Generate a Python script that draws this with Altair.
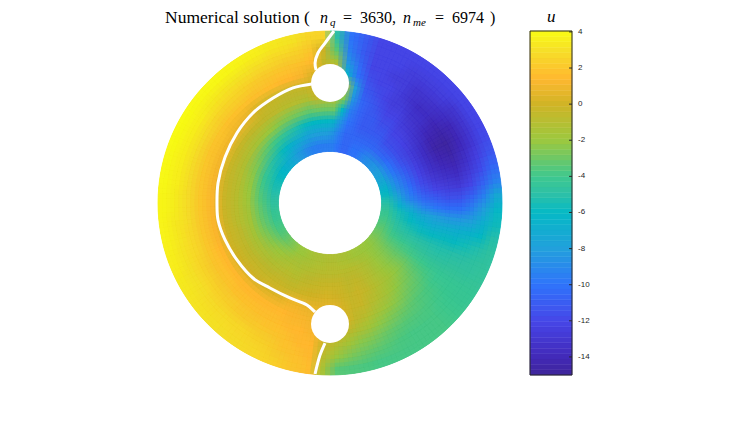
import altair as alt
import pandas as pd

ring_edges = [0.30, 0.37, 0.44, 0.51, 0.58, 0.65, 0.72, 0.79, 0.86, 0.93, 1.0]
sector_step = 5

# one row per 5 degree sector (clockwise from 12 o'clock), inner ring to outer ring
sector_values = [
    [-9.5,-8.5,-6.5,-3,-1,0.5,0.5,-1.5,-3.5,-5],
    [-10,-9.5,-8.5,-6,-2.5,-1,-6.5,-8.5,-9.5,-10],
    [-10.5,-10.5,-10,-9.5,-8.5,-8,-10,-10.5,-11,-11],
    [-10.5,-10.5,-10.5,-10.5,-10.5,-11,-11.5,-12,-12,-12],
    [-10,-10.5,-11,-11,-11,-11.5,-12,-12,-12,-12],
    [-10,-10.5,-11,-11,-11.5,-12,-12,-12.5,-12,-12],
    [-9.5,-10.5,-11,-11.5,-12,-12.5,-12.5,-12.5,-12.5,-12],
    [-9,-10.5,-11,-11.5,-12,-12.5,-13,-13,-12.5,-12],
    [-8.8,-10.5,-11.5,-12,-12.5,-13,-13.5,-13,-12.5,-12],
    [-8.5,-10.5,-11.5,-12,-12.7,-13.2,-13.5,-13.2,-12.5,-12],
    [-8.3,-10.3,-11.5,-12.2,-13,-13.7,-14,-13.5,-13,-12],
    [-8,-10,-11.5,-12.4,-13.3,-14.2,-14.4,-14,-13,-12],
    [-7.8,-9.8,-11.3,-12.5,-13.5,-14.5,-14.7,-14,-13,-12],
    [-7.3,-9.5,-11,-12.3,-13.4,-14.2,-14.5,-13.8,-12.8,-11.8],
    [-6.8,-9.2,-10.7,-12.1,-13.2,-13.8,-14.1,-13.3,-12.3,-11.3],
    [-6.3,-8.8,-10.3,-11.8,-12.7,-13.2,-13.5,-12.7,-11.7,-10.5],
    [-5.8,-8.2,-9.9,-11.2,-12,-12.5,-12.7,-12,-10.8,-9.3],
    [-5.2,-7.4,-9.3,-10.5,-11,-11.5,-11.5,-10.7,-9.3,-7.3],
    [-4.8,-6.5,-8,-9.2,-9.8,-10.2,-10.2,-9.3,-8,-6.2],
    [-4.4,-5.5,-6.5,-7.5,-8,-8.3,-8.3,-8,-6.8,-5.7],
    [-4.1,-5.2,-5.9,-6.5,-7,-6.9,-6.8,-6.5,-6,-5.1],
    [-3.8,-4.8,-5.3,-5.7,-5.9,-5.8,-5.9,-5.6,-5.2,-4.8],
    [-3.5,-4.4,-4.8,-5,-5.1,-5.2,-5.1,-5,-4.8,-4.6],
    [-3.2,-3.9,-4.2,-4.4,-4.6,-4.7,-4.7,-4.6,-4.6,-4.5],
    [-2.9,-3.4,-3.6,-3.8,-4,-4.2,-4.3,-4.3,-4.3,-4.3],
    [-2.6,-2.9,-3.1,-3.1,-3.4,-3.7,-4,-4.1,-4.2,-4.2],
    [-2.3,-2.5,-2.6,-2.5,-2.9,-3.3,-3.7,-3.9,-4,-4],
    [-2.1,-2.2,-2.2,-2.1,-2.5,-3,-3.5,-3.7,-3.8,-3.8],
    [-2,-1.9,-1.8,-1.7,-2.1,-2.6,-3.2,-3.6,-3.8,-3.8],
    [-1.9,-1.5,-1.4,-1.3,-1.6,-2.2,-2.9,-3.5,-3.8,-3.8],
    [-1.8,-1.2,-1,-0.9,-1.2,-1.8,-2.6,-3.3,-3.7,-3.8],
    [-1.7,-1,-0.7,-0.5,-0.8,-1.4,-2.2,-3,-3.5,-3.8],
    [-1.5,-0.9,-0.5,-0.2,-0.3,-0.8,-1.7,-2.6,-3.3,-3.8],
    [-1.4,-0.9,-0.6,-0.4,-0.3,-0.5,-1.2,-2.3,-3,-3.7],
    [-1.3,-0.8,-0.4,-0.1,0.2,0.3,-0.6,-1.6,-2.6,-3.6],
    [-1.2,-0.8,-0.3,0.1,0.6,0.8,0,-1,-2,-3.4],
    [-1.2,-0.8,-0.3,0.2,0.7,1,0.7,-0.3,-0.8,-1.5],
    [-1.3,-0.9,-0.4,0.1,0.7,1,1.2,1.4,1.5,1.6],
    [-1.4,-1,-0.5,0,0.8,1.2,1.4,1.5,1.7,1.9],
    [-1.5,-1.1,-0.6,-0.1,0.9,1.3,1.5,1.7,1.9,2.2],
    [-1.7,-1.2,-0.8,-0.3,0.9,1.4,1.6,1.9,2.2,2.5],
    [-1.9,-1.4,-0.9,-0.4,0.5,1.5,1.7,2,2.4,2.7],
    [-2,-1.4,-0.8,-0.3,0.3,1.5,1.7,2.1,2.6,2.8],
    [-2.3,-1.6,-1,-0.4,0.2,1.5,1.8,2.1,2.7,2.9],
    [-2.6,-1.8,-1.1,-0.5,0.1,1.5,1.8,2.2,2.8,3],
    [-2.9,-2,-1.2,-0.5,0.1,1.5,1.8,2.3,2.8,3.1],
    [-3.2,-2.2,-1.3,-0.5,0.1,1.5,1.9,2.4,2.9,3.2],
    [-3.5,-2.4,-1.4,-0.6,0,1.5,1.9,2.5,3,3.3],
    [-3.7,-2.6,-1.5,-0.6,0,1.5,1.9,2.5,3,3.4],
    [-3.9,-2.8,-1.6,-0.7,-0.1,1.4,2,2.6,3.1,3.5],
    [-4.1,-3,-1.6,-0.7,-0.1,1.3,2,2.7,3.2,3.6],
    [-4.2,-3.1,-1.7,-0.8,-0.1,1.3,2,2.7,3.3,3.7],
    [-4.4,-3.2,-1.7,-0.8,-0.2,1.3,2,2.8,3.3,3.7],
    [-4.6,-3.3,-1.8,-0.8,-0.2,1.3,2,2.8,3.4,3.8],
    [-4.8,-3.5,-1.9,-0.9,-0.2,1.3,2,2.8,3.4,3.8],
    [-5,-3.6,-2,-0.9,-0.2,1.2,2,2.8,3.5,3.9],
    [-5.2,-3.8,-2.1,-0.9,-0.3,1.2,2,2.8,3.5,3.9],
    [-5.4,-4,-2.2,-1,-0.3,1.1,2,2.8,3.5,3.9],
    [-5.6,-4.3,-2.4,-1.1,-0.3,1.1,1.9,2.8,3.5,4],
    [-5.8,-4.5,-2.6,-1.2,-0.3,1,1.9,2.8,3.5,4],
    [-6.1,-4.8,-2.9,-1.3,-0.4,1,1.9,2.7,3.5,4],
    [-6.4,-5.1,-3.2,-1.5,-0.5,0.9,1.8,2.6,3.4,3.9],
    [-6.8,-5.4,-3.5,-1.7,-0.5,0.8,1.8,2.5,3.3,3.9],
    [-7.2,-5.8,-3.9,-1.9,-0.5,0.5,1.8,2.5,3.2,3.9],
    [-7.7,-6.3,-4.2,-2.1,-0.6,0,1.7,2.4,3.1,3.8],
    [-8.2,-6.7,-4.6,-2.4,-0.7,-0.3,1.7,2.2,3,3.7],
    [-8.6,-7,-5,-2.6,-0.8,-0.4,1.6,2.1,2.9,3.6],
    [-9,-7.4,-5.4,-2.8,-0.9,-0.5,1.5,2,2.7,3.4],
    [-9.3,-7.8,-5.8,-3,-1,-0.5,1.4,1.9,2.6,3.3],
    [-9.5,-8,-6,-3.2,-1.2,-0.3,1.2,1.8,2.4,3.1],
    [-9.5,-8,-6,-3,-0.5,0,0.3,1.5,2,2.6],
    [-9.5,-8,-6,-3,-0.8,0.3,0,-0.5,0,2.5],
]

color_stops = [-15, -14, -12, -10, -8, -6, -5, -4, -2, 0, 1.4, 3, 4]
color_hex = ["#3e2699", "#4229b8", "#4646e8", "#2f74fb", "#22a0dc", "#05b9c5", "#2cc0a8",
             "#3fc88e", "#9cc83f", "#d0b426", "#ffb830", "#f6e028", "#f9fb15"]
colorbar_ticks = [4, 2, 0, -2, -4, -6, -8, -10, -12, -14]
colorbar_labels = ["4", "2", "0", "-2", "-4", "-6", "-8", "-10", "-12", "-14"]
colorbar_min = -15
colorbar_max = 4.05
colorbar_bands = 64

# same cells drawn again, slightly shifted and translucent, so the cell edges fade out
shift_theta = [0, 1.67, -1.67]
shift_ring = [0, 0.0233, -0.0233]

hole_x = [0.0, 0.0]
hole_y = [0.698, -0.703]

curve_main_x = [-0.105,-0.215,-0.331,-0.448,-0.541,-0.610,-0.651,-0.657,-0.651,-0.610,-0.541,-0.448,-0.349,-0.233,-0.134,-0.087]
curve_main_y = [0.692,0.669,0.610,0.523,0.407,0.267,0.116,-0.012,-0.099,-0.215,-0.331,-0.436,-0.494,-0.552,-0.593,-0.634]
curve_top_x = [0.023,-0.029,-0.070,-0.087,-0.081]
curve_top_y = [1.0,0.930,0.872,0.814,0.773]
curve_bottom_x = [-0.029,-0.058,-0.087]
curve_bottom_y = [-0.814,-0.884,-0.994]

title_head = ["Numerical solution ("]
title_head_x = [-0.959]
title_roman = ["=", "3630,", "=", "6974", ")"]
title_roman_x = [0.075, 0.174, 0.610, 0.709, 0.930]
title_italic = ["n", "n"]
title_italic_x = [-0.058, 0.424]
title_sub = ["q", "me"]
title_sub_x = [0.000, 0.483]
title_y = [1.047]
title_sub_y = [1.030]

xs = alt.Scale(domain=[-1.8721, 2.3953], nice=False, zero=False)
ys = alt.Scale(domain=[-1.2267, 1.1337], nice=False, zero=False)
bar_ys = alt.Scale(domain=[colorbar_min, colorbar_max], range=[367, 23], nice=False, zero=False)
X = alt.X("x:Q", scale=xs, axis=None)
Y = alt.Y("y:Q", scale=ys, axis=None)
color_scale = alt.Scale(domain=color_stops, range=color_hex, interpolate="rgb")


def field_layer(dt, dr, opacity, outlined):
    rows = []
    for s, vals in enumerate(sector_values):
        for k, v in enumerate(vals):
            rows.append(dict(a0=s * sector_step + dt, a1=(s + 1) * sector_step + dt,
                             r0=max(ring_edges[0], ring_edges[k] + dr),
                             r1=min(ring_edges[-1], ring_edges[k + 1] + dr), u=v, cx=0, cy=0))
    enc = dict(
        x=alt.X("cx:Q", scale=xs, axis=None),
        y=alt.Y("cy:Q", scale=ys, axis=None),
        theta=alt.Theta("a0:Q", stack=None, scale=alt.Scale(domain=[0, 360], range=[0, 6.283185])),
        theta2="a1:Q",
        radius=alt.Radius("r0:Q", stack=None, scale=alt.Scale(type="linear", domain=[0, 1], range=[0, 172])),
        radius2="r1:Q",
        color=alt.Color("u:Q", scale=color_scale, legend=None),
    )
    if outlined:
        enc["stroke"] = alt.Stroke("u:Q", scale=color_scale, legend=None)
        return alt.Chart(pd.DataFrame(rows)).mark_arc(strokeWidth=0.8).encode(**enc)
    return alt.Chart(pd.DataFrame(rows)).mark_arc(opacity=opacity).encode(**enc)


field_layers = []
n = 0
for dr in shift_ring:
    for dt in shift_theta:
        n += 1
        field_layers.append(field_layer(dt, dr, 1 / n, n == 1))

curves = pd.concat([
    pd.DataFrame(dict(x=curve_main_x, y=curve_main_y, c="main", o=range(len(curve_main_x)))),
    pd.DataFrame(dict(x=curve_top_x, y=curve_top_y, c="top", o=range(len(curve_top_x)))),
    pd.DataFrame(dict(x=curve_bottom_x, y=curve_bottom_y, c="bottom", o=range(len(curve_bottom_x)))),
])

holes = alt.Chart(pd.DataFrame(dict(x=hole_x, y=hole_y))).mark_point(
    filled=True, color="white", opacity=1, size=1444).encode(x=X, y=Y)

line = alt.Chart(curves).mark_line(color="white", strokeWidth=3, interpolate="catmull-rom").encode(
    x=alt.X("x:Q", scale=xs, axis=None, sort=None),
    y=alt.Y("y:Q", scale=ys, axis=None), detail="c:N", order="o:Q")


def text_layer(labels, xv, yv, size, style):
    df = pd.DataFrame(dict(x=xv, y=yv * len(labels), t=labels))
    return alt.Chart(df).mark_text(font="Liberation Serif", fontSize=size, fontStyle=style,
                                   align="left", baseline="alphabetic", color="black").encode(x=X, y=Y, text="t:N")


t0 = text_layer(title_head, title_head_x, title_y, 17.5, "normal")
t1 = text_layer(title_roman, title_roman_x, title_y, 16, "normal")
t2 = text_layer(title_italic, title_italic_x, title_y, 16, "italic")
t3 = text_layer(title_sub, title_sub_x, title_sub_y, 11, "italic")
t4 = text_layer(["u"], [1.262], [1.052], 17, "italic")

bar_x0 = 1.163
bar_x1 = 1.407
bw = (colorbar_max - colorbar_min) / colorbar_bands
bands = pd.DataFrame(dict(
    lo=[colorbar_min + i * bw for i in range(colorbar_bands)],
    hi=[colorbar_min + (i + 1) * bw for i in range(colorbar_bands)],
    mid=[colorbar_min + (i + 0.5) * bw for i in range(colorbar_bands)],
    x0=[bar_x0] * colorbar_bands, x1=[bar_x1] * colorbar_bands))
bar = alt.Chart(bands).mark_rect(strokeWidth=0.5).encode(
    x=alt.X("x0:Q", scale=xs, axis=None), x2="x1:Q",
    y=alt.Y("lo:Q", scale=bar_ys, axis=None), y2="hi:Q",
    color=alt.Color("mid:Q", scale=color_scale, legend=None),
    stroke=alt.Stroke("mid:Q", scale=color_scale, legend=None))

frame = alt.Chart(pd.DataFrame(dict(x0=[bar_x0], x1=[bar_x1], lo=[colorbar_min], hi=[colorbar_max]))).mark_rect(
    fillOpacity=0, stroke="#262626", strokeWidth=1).encode(
    x=alt.X("x0:Q", scale=xs, axis=None), x2="x1:Q",
    y=alt.Y("lo:Q", scale=bar_ys, axis=None), y2="hi:Q")

ticks = alt.Chart(pd.DataFrame(dict(v=colorbar_ticks, x0=[1.39] * 10, x1=[1.407] * 10))).mark_rule(
    color="#262626", strokeWidth=1).encode(
    x=alt.X("x0:Q", scale=xs, axis=None), x2="x1:Q",
    y=alt.Y("v:Q", scale=bar_ys, axis=None))

tick_text = alt.Chart(pd.DataFrame(dict(v=colorbar_ticks, t=colorbar_labels, x=[1.442] * 10))).mark_text(
    font="Liberation Sans", fontSize=8, color="#262626", align="left", baseline="middle").encode(
    x=X, y=alt.Y("v:Q", scale=bar_ys, axis=None), text="t:N")

chart = alt.layer(*field_layers, holes, line, t0, t1, t2, t3, t4, bar, frame, ticks, tick_text).resolve_scale(
    y="independent"
).properties(width=734, height=406, padding=0, autosize="none").configure_view(stroke=None)

chart.save("out.html", embed_options={"renderer": "svg", "actions": False})
